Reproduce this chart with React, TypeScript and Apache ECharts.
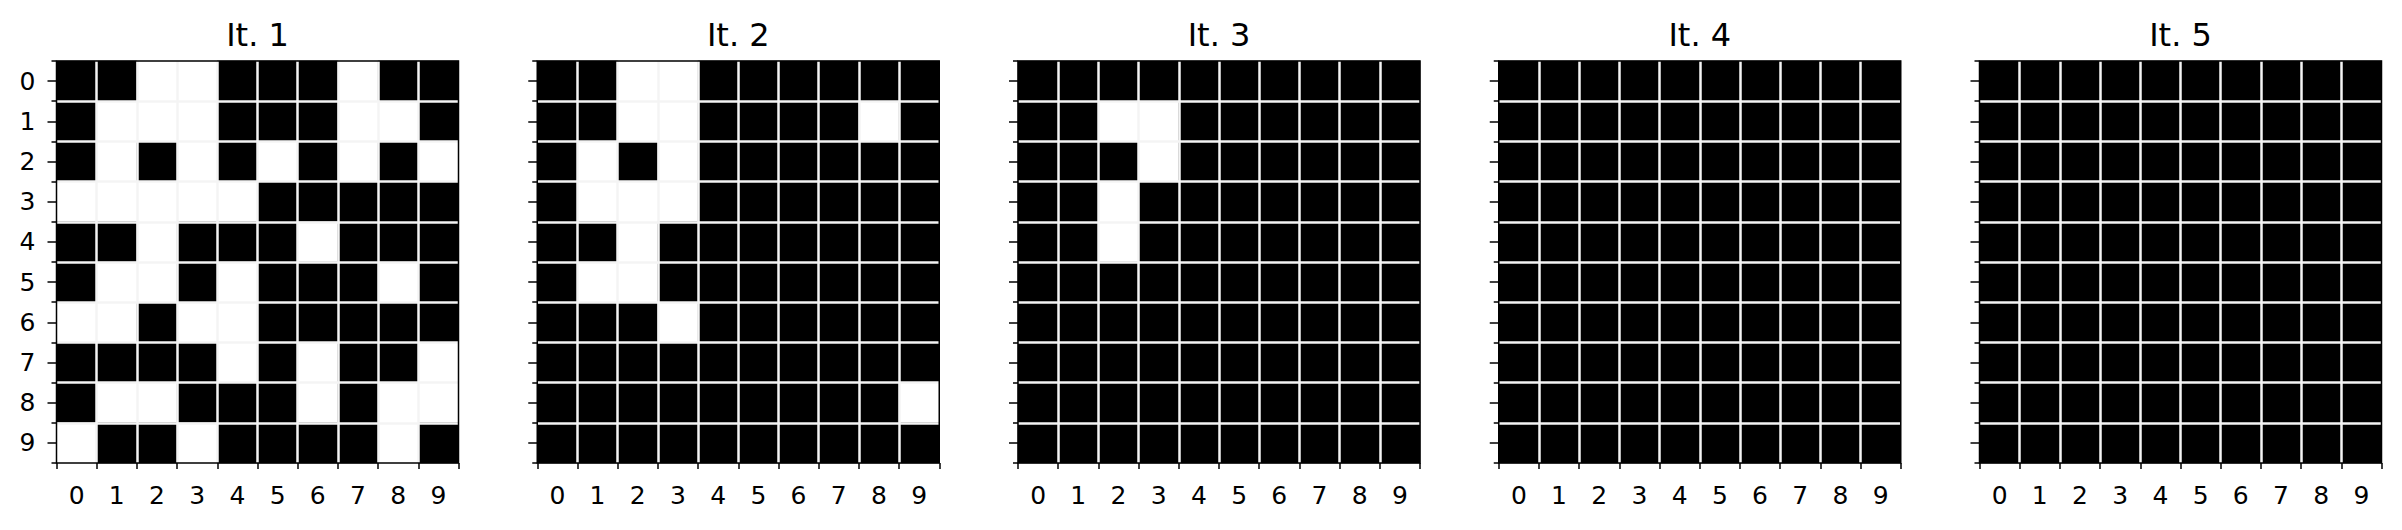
import React, { useEffect, useRef } from "react";
import * as echarts from "echarts";

const cols = ["0", "1", "2", "3", "4", "5", "6", "7", "8", "9"];
const rows = ["0", "1", "2", "3", "4", "5", "6", "7", "8", "9"];
const titles = ["It. 1", "It. 2", "It. 3", "It. 4", "It. 5"];

// 1 = black cell, 0 = white cell; rows top to bottom, columns left to right
const it1 = [
  [1, 1, 0, 0, 1, 1, 1, 0, 1, 1],
  [1, 0, 0, 0, 1, 1, 1, 0, 0, 1],
  [1, 0, 1, 0, 1, 0, 1, 0, 1, 0],
  [0, 0, 0, 0, 0, 1, 1, 1, 1, 1],
  [1, 1, 0, 1, 1, 1, 0, 1, 1, 1],
  [1, 0, 0, 1, 0, 1, 1, 1, 0, 1],
  [0, 0, 1, 0, 0, 1, 1, 1, 1, 1],
  [1, 1, 1, 1, 0, 1, 0, 1, 1, 0],
  [1, 0, 0, 1, 1, 1, 0, 1, 0, 0],
  [0, 1, 1, 0, 1, 1, 1, 1, 0, 1],
];
const it2 = [
  [1, 1, 0, 0, 1, 1, 1, 1, 1, 1],
  [1, 1, 0, 0, 1, 1, 1, 1, 0, 1],
  [1, 0, 1, 0, 1, 1, 1, 1, 1, 1],
  [1, 0, 0, 0, 1, 1, 1, 1, 1, 1],
  [1, 1, 0, 1, 1, 1, 1, 1, 1, 1],
  [1, 0, 0, 1, 1, 1, 1, 1, 1, 1],
  [1, 1, 1, 0, 1, 1, 1, 1, 1, 1],
  [1, 1, 1, 1, 1, 1, 1, 1, 1, 1],
  [1, 1, 1, 1, 1, 1, 1, 1, 1, 0],
  [1, 1, 1, 1, 1, 1, 1, 1, 1, 1],
];
const it3 = [
  [1, 1, 1, 1, 1, 1, 1, 1, 1, 1],
  [1, 1, 0, 0, 1, 1, 1, 1, 1, 1],
  [1, 1, 1, 0, 1, 1, 1, 1, 1, 1],
  [1, 1, 0, 1, 1, 1, 1, 1, 1, 1],
  [1, 1, 0, 1, 1, 1, 1, 1, 1, 1],
  [1, 1, 1, 1, 1, 1, 1, 1, 1, 1],
  [1, 1, 1, 1, 1, 1, 1, 1, 1, 1],
  [1, 1, 1, 1, 1, 1, 1, 1, 1, 1],
  [1, 1, 1, 1, 1, 1, 1, 1, 1, 1],
  [1, 1, 1, 1, 1, 1, 1, 1, 1, 1],
];
const it4 = [
  [1, 1, 1, 1, 1, 1, 1, 1, 1, 1],
  [1, 1, 1, 1, 1, 1, 1, 1, 1, 1],
  [1, 1, 1, 1, 1, 1, 1, 1, 1, 1],
  [1, 1, 1, 1, 1, 1, 1, 1, 1, 1],
  [1, 1, 1, 1, 1, 1, 1, 1, 1, 1],
  [1, 1, 1, 1, 1, 1, 1, 1, 1, 1],
  [1, 1, 1, 1, 1, 1, 1, 1, 1, 1],
  [1, 1, 1, 1, 1, 1, 1, 1, 1, 1],
  [1, 1, 1, 1, 1, 1, 1, 1, 1, 1],
  [1, 1, 1, 1, 1, 1, 1, 1, 1, 1],
];
const it5 = [
  [1, 1, 1, 1, 1, 1, 1, 1, 1, 1],
  [1, 1, 1, 1, 1, 1, 1, 1, 1, 1],
  [1, 1, 1, 1, 1, 1, 1, 1, 1, 1],
  [1, 1, 1, 1, 1, 1, 1, 1, 1, 1],
  [1, 1, 1, 1, 1, 1, 1, 1, 1, 1],
  [1, 1, 1, 1, 1, 1, 1, 1, 1, 1],
  [1, 1, 1, 1, 1, 1, 1, 1, 1, 1],
  [1, 1, 1, 1, 1, 1, 1, 1, 1, 1],
  [1, 1, 1, 1, 1, 1, 1, 1, 1, 1],
  [1, 1, 1, 1, 1, 1, 1, 1, 1, 1],
];
const panels = [it1, it2, it3, it4, it5];

const FONT = "DejaVu Sans";
const GRID_LEFT0 = 56.5;
const GRID_STEP = 480.75;
const GRID_TOP = 61;
const GRID_W = 402;
const GRID_H = 402;

function buildOption() {
  const grid: any[] = [];
  const xAxis: any[] = [];
  const yAxis: any[] = [];
  const series: any[] = [];
  const title: any[] = [];

  panels.forEach((cells, i) => {
    const left = GRID_LEFT0 + GRID_STEP * i;
    grid.push({
      left,
      top: GRID_TOP,
      width: GRID_W,
      height: GRID_H,
      show: true,
      backgroundColor: "transparent",
      borderColor: "#000",
      borderWidth: 1.5,
      z: 6,
    });
    title.push({
      text: titles[i],
      left: left + GRID_W / 2,
      top: 19,
      padding: 0,
      textAlign: "center",
      textStyle: {
        fontFamily: FONT,
        fontSize: 32,
        fontWeight: "normal",
        color: "#000",
      },
    });
    xAxis.push({
      type: "category",
      gridIndex: i,
      data: cols,
      position: "bottom",
      z: 5,
      axisLine: { show: false },
      axisTick: {
        show: true,
        interval: 0,
        length: 6,
        lineStyle: { color: "#000", width: 1.5 },
      },
      axisLabel: {
        interval: 0,
        margin: 20,
        fontSize: 25,
        fontFamily: FONT,
        color: "#000",
      },
      splitLine: {
        show: true,
        interval: 0,
        showMinLine: false,
        showMaxLine: false,
        lineStyle: { color: "#f4f4f4", width: 2.5 },
      },
    });
    // major y axis: ticks at cell centers, labels (first panel only), horizontal grid lines
    yAxis.push({
      type: "category",
      gridIndex: i,
      data: rows,
      inverse: true,
      position: "left",
      z: 5,
      axisLine: { show: false },
      axisTick: {
        show: true,
        interval: 0,
        alignWithLabel: true,
        length: 9,
        lineStyle: { color: "#000", width: 1.5 },
      },
      axisLabel: {
        show: i === 0,
        interval: 0,
        margin: 21,
        align: "right",
        verticalAlign: "middle",
        fontSize: 25,
        fontFamily: FONT,
        color: "#000",
      },
      splitLine: {
        show: true,
        interval: 0,
        showMinLine: false,
        showMaxLine: false,
        lineStyle: { color: "#f4f4f4", width: 2.5 },
      },
    });
    // minor y axis: short ticks at cell boundaries
    yAxis.push({
      type: "category",
      gridIndex: i,
      data: rows,
      inverse: true,
      position: "left",
      offset: 0,
      z: 5,
      axisLine: { show: false },
      axisTick: {
        show: true,
        interval: 0,
        alignWithLabel: false,
        length: 5,
        lineStyle: { color: "#000", width: 1.5 },
      },
      axisLabel: { show: false },
      splitLine: { show: false },
    });
    const data: number[][] = [];
    cells.forEach((row, r) => {
      row.forEach((v, c) => {
        data.push([c, r, v]);
      });
    });
    series.push({
      type: "heatmap",
      xAxisIndex: i,
      yAxisIndex: 2 * i,
      data,
      itemStyle: { borderWidth: 0 },
      emphasis: { disabled: true },
      label: { show: false },
    });
  });

  return {
    animation: false,
    backgroundColor: "#ffffff",
    title,
    grid,
    xAxis,
    yAxis,
    visualMap: {
      type: "piecewise",
      show: false,
      dimension: 2,
      seriesIndex: series.map((_, i) => i),
      pieces: [
        { min: 0.5, color: "#000000" },
        { max: 0.5, color: "#ffffff" },
      ],
    },
    series,
  };
}

export default function App() {
  const ref = useRef<HTMLDivElement>(null);
  useEffect(() => {
    if (!ref.current) return;
    const chart = echarts.init(ref.current, undefined, { renderer: "svg" });
    chart.setOption(buildOption() as any);
    return () => {
      chart.dispose();
    };
  }, []);
  return (
    <div
      ref={ref}
      style={{
        position: "fixed",
        left: 0,
        top: 0,
        width: 2402,
        height: 530,
        background: "#fff",
      }}
    />
  );
}
